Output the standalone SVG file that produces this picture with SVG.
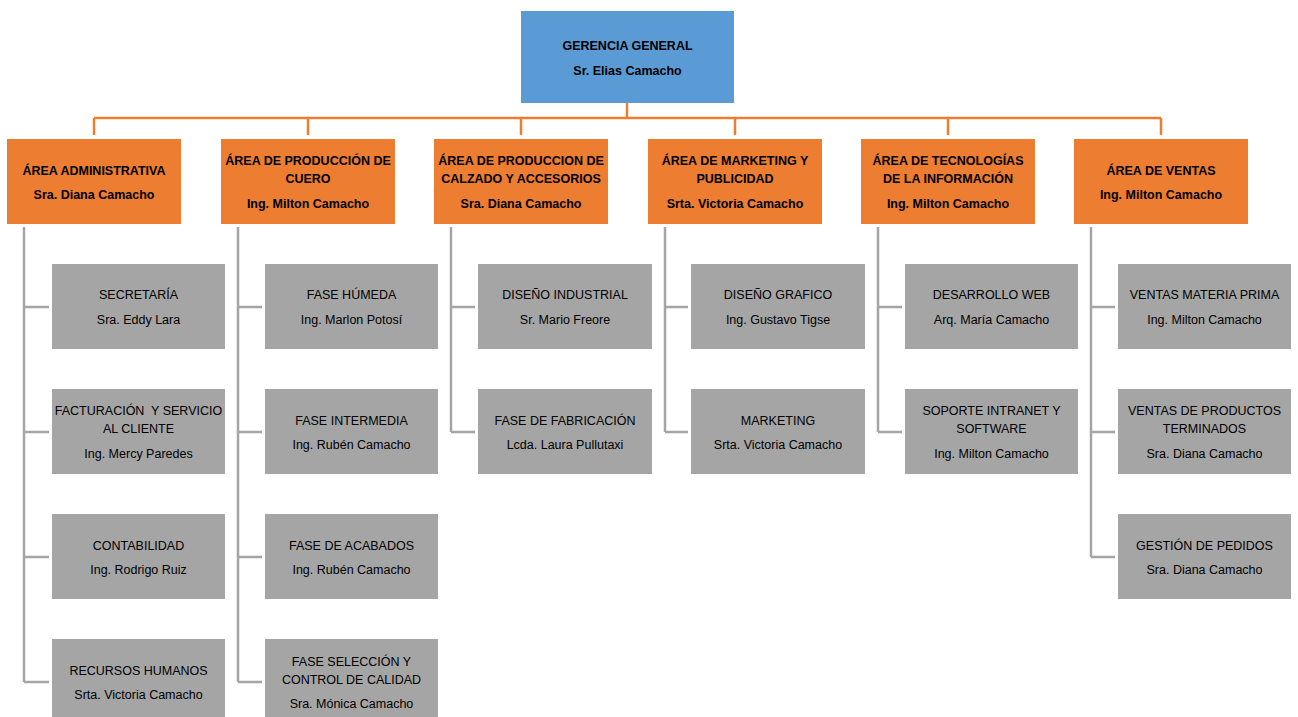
<svg xmlns="http://www.w3.org/2000/svg" width="1298" height="717" viewBox="0 0 1298 717">
<style>
.top{fill:#5B9BD5}
.area{fill:#ED7D31}
.sub{fill:#A5A5A5}
.oc{stroke:#ED7D31;stroke-width:2.5;fill:none}
.gc{stroke:#A5A5A5;stroke-width:2.5;fill:none}
text{font-family:"Liberation Sans",Arial,sans-serif;text-anchor:middle;fill:#000}
.b{font-weight:bold;font-size:12.5px}
.r{font-size:12.5px}
</style>
<rect width="1298" height="717" fill="#fff"/>
<g id="connectors">
<path class="oc" d="M627,103V118M94,118H1161M94,118V135M308,118V135M521,118V135M735,118V135M948,118V135M1161,118V135"/>
<path class="gc" d="M24,227V682M24,307H49M24,432H49M24,557H49M24,682H49"/>
<path class="gc" d="M238,227V682M238,307H262M238,432H262M238,557H262M238,682H262"/>
<path class="gc" d="M451,227V432M451,307H475M451,432H475"/>
<path class="gc" d="M665,227V432M665,307H688M665,432H688"/>
<path class="gc" d="M878,227V432M878,307H902M878,432H902"/>
<path class="gc" d="M1091,227V557M1091,307H1115M1091,432H1115M1091,557H1115"/>
</g>
<g id="gerencia"><rect class="top" x="521" y="11" width="213" height="92"/><text class="b" x="627.5" y="49.5">GERENCIA GENERAL</text><text class="b" x="627.5" y="74.5">Sr. Elias Camacho</text></g>

<g id="area-admin"><rect class="area" x="7" y="139" width="174" height="85"/><text class="b" x="94" y="174.5">ÁREA ADMINISTRATIVA</text><text class="b" x="94" y="198.5">Sra. Diana Camacho</text></g>
<g id="area-cuero"><rect class="area" x="221" y="139" width="174" height="85"/><text class="b" x="308" y="164.5">ÁREA DE PRODUCCIÓN DE</text><text class="b" x="308" y="182.5">CUERO</text><text class="b" x="308" y="207.5">Ing. Milton Camacho</text></g>
<g id="area-calzado"><rect class="area" x="434" y="139" width="174" height="85"/><text class="b" x="521" y="164.5">ÁREA DE PRODUCCION DE</text><text class="b" x="521" y="182.5">CALZADO Y ACCESORIOS</text><text class="b" x="521" y="207.5">Sra. Diana Camacho</text></g>
<g id="area-marketing"><rect class="area" x="648" y="139" width="174" height="85"/><text class="b" x="735" y="164.5">ÁREA DE MARKETING Y</text><text class="b" x="735" y="182.5">PUBLICIDAD</text><text class="b" x="735" y="207.5">Srta. Victoria Camacho</text></g>
<g id="area-tic"><rect class="area" x="861" y="139" width="174" height="85"/><text class="b" x="948" y="164.5">ÁREA DE TECNOLOGÍAS</text><text class="b" x="948" y="182.5">DE LA INFORMACIÓN</text><text class="b" x="948" y="207.5">Ing. Milton Camacho</text></g>
<g id="area-ventas"><rect class="area" x="1074" y="139" width="174" height="85"/><text class="b" x="1161" y="174.5">ÁREA DE VENTAS</text><text class="b" x="1161" y="198.5">Ing. Milton Camacho</text></g>

<g id="secretaria"><rect class="sub" x="52" y="264" width="173" height="85"/><text class="r" x="138.5" y="298.5">SECRETARÍA</text><text class="r" x="138.5" y="323.5">Sra. Eddy Lara</text></g>
<g id="facturacion"><rect class="sub" x="52" y="389" width="173" height="85"/><text class="r" x="138.5" y="414.5" xml:space="preserve">FACTURACIÓN  Y SERVICIO</text><text class="r" x="138.5" y="432.5">AL CLIENTE</text><text class="r" x="138.5" y="457.5">Ing. Mercy Paredes</text></g>
<g id="contabilidad"><rect class="sub" x="52" y="514" width="173" height="85"/><text class="r" x="138.5" y="549.5">CONTABILIDAD</text><text class="r" x="138.5" y="573.5">Ing. Rodrigo Ruiz</text></g>
<g id="rrhh"><rect class="sub" x="52" y="639" width="173" height="85"/><text class="r" x="138.5" y="674.5">RECURSOS HUMANOS</text><text class="r" x="138.5" y="698.5">Srta. Victoria Camacho</text></g>

<g id="fase-humeda"><rect class="sub" x="265" y="264" width="173" height="85"/><text class="r" x="351.5" y="298.5">FASE HÚMEDA</text><text class="r" x="351.5" y="323.5">Ing. Marlon Potosí</text></g>
<g id="fase-intermedia"><rect class="sub" x="265" y="389" width="173" height="85"/><text class="r" x="351.5" y="424.5">FASE INTERMEDIA</text><text class="r" x="351.5" y="448.5">Ing. Rubén Camacho</text></g>
<g id="fase-acabados"><rect class="sub" x="265" y="514" width="173" height="85"/><text class="r" x="351.5" y="549.5">FASE DE ACABADOS</text><text class="r" x="351.5" y="573.5">Ing. Rubén Camacho</text></g>
<g id="fase-seleccion"><rect class="sub" x="265" y="639" width="173" height="85"/><text class="r" x="351.5" y="665.5">FASE SELECCIÓN Y</text><text class="r" x="351.5" y="683.5">CONTROL DE CALIDAD</text><text class="r" x="351.5" y="707.5">Sra. Mónica Camacho</text></g>

<g id="diseno-industrial"><rect class="sub" x="478" y="264" width="174" height="85"/><text class="r" x="565" y="298.5">DISEÑO INDUSTRIAL</text><text class="r" x="565" y="323.5">Sr. Mario Freore</text></g>
<g id="fase-fabricacion"><rect class="sub" x="478" y="389" width="174" height="85"/><text class="r" x="565" y="424.5">FASE DE FABRICACIÓN</text><text class="r" x="565" y="448.5">Lcda. Laura Pullutaxi</text></g>

<g id="diseno-grafico"><rect class="sub" x="691" y="264" width="174" height="85"/><text class="r" x="778" y="298.5">DISEÑO GRAFICO</text><text class="r" x="778" y="323.5">Ing. Gustavo Tigse</text></g>
<g id="marketing"><rect class="sub" x="691" y="389" width="174" height="85"/><text class="r" x="778" y="424.5">MARKETING</text><text class="r" x="778" y="448.5">Srta. Victoria Camacho</text></g>

<g id="desarrollo-web"><rect class="sub" x="905" y="264" width="173" height="85"/><text class="r" x="991.5" y="298.5">DESARROLLO WEB</text><text class="r" x="991.5" y="323.5">Arq. María Camacho</text></g>
<g id="soporte"><rect class="sub" x="905" y="389" width="173" height="85"/><text class="r" x="991.5" y="414.5">SOPORTE INTRANET Y</text><text class="r" x="991.5" y="432.5">SOFTWARE</text><text class="r" x="991.5" y="457.5">Ing. Milton Camacho</text></g>

<g id="ventas-materia"><rect class="sub" x="1118" y="264" width="173" height="85"/><text class="r" x="1204.5" y="298.5">VENTAS MATERIA PRIMA</text><text class="r" x="1204.5" y="323.5">Ing. Milton Camacho</text></g>
<g id="ventas-productos"><rect class="sub" x="1118" y="389" width="173" height="85"/><text class="r" x="1204.5" y="414.5">VENTAS DE PRODUCTOS</text><text class="r" x="1204.5" y="432.5">TERMINADOS</text><text class="r" x="1204.5" y="457.5">Sra. Diana Camacho</text></g>
<g id="gestion-pedidos"><rect class="sub" x="1118" y="514" width="173" height="85"/><text class="r" x="1204.5" y="549.5">GESTIÓN DE PEDIDOS</text><text class="r" x="1204.5" y="573.5">Sra. Diana Camacho</text></g>
</svg>
